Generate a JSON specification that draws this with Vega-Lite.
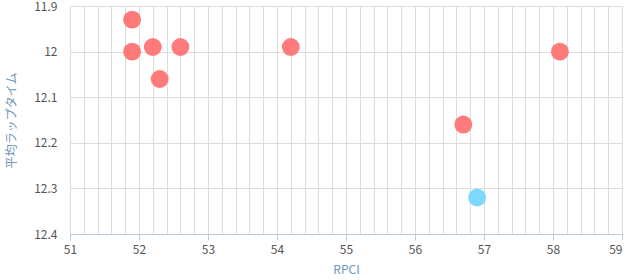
{
  "$schema": "https://vega.github.io/schema/vega-lite/v6.json",
  "width": 552,
  "height": 228,
  "autosize": "none",
  "padding": {"left": 70, "top": 6, "right": 3, "bottom": 46},
  "background": "white",
  "data": {
    "values": [
      {"RPCI": 51.9, "lap": 11.93, "group": "A"},
      {"RPCI": 51.9, "lap": 12.0, "group": "A"},
      {"RPCI": 52.2, "lap": 11.99, "group": "A"},
      {"RPCI": 52.3, "lap": 12.06, "group": "A"},
      {"RPCI": 52.6, "lap": 11.99, "group": "A"},
      {"RPCI": 54.2, "lap": 11.99, "group": "A"},
      {"RPCI": 56.7, "lap": 12.16, "group": "A"},
      {"RPCI": 58.1, "lap": 12.0, "group": "A"},
      {"RPCI": 56.9, "lap": 12.32, "group": "B"}
    ]
  },
  "config": {
    "view": {"stroke": null},
    "axis": {
      "labelFont": "Noto Sans CJK JP",
      "titleFont": "Noto Sans CJK JP",
      "labelFontSize": 12,
      "labelColor": "#555555",
      "titleColor": "#7196b8",
      "titleFontWeight": "normal",
      "titleFontSize": 12,
      "gridColor": "#dddddd",
      "gridOpacity": 1
    }
  },
  "mark": {"type": "circle", "size": 320, "opacity": 1},
  "encoding": {
    "x": {
      "field": "RPCI",
      "type": "quantitative",
      "scale": {"domain": [51, 59], "nice": false, "zero": false},
      "axis": {
        "title": "RPCI",
        "titlePadding": 9,
        "values": [51, 51.2, 51.4, 51.6, 51.8, 52, 52.2, 52.4, 52.6, 52.8, 53, 53.2, 53.4, 53.6, 53.8, 54, 54.2, 54.4, 54.6, 54.8, 55, 55.2, 55.4, 55.6, 55.8, 56, 56.2, 56.4, 56.6, 56.8, 57, 57.2, 57.4, 57.6, 57.8, 58, 58.2, 58.4, 58.6, 58.8, 59],
        "labelExpr": "abs(datum.value - round(datum.value)) < 0.01 ? format(datum.value, 'd') : ''",
        "labelOverlap": false,
        "labelFlush": false,
        "labelPadding": 4,
        "labelAlign": {"condition": {"test": "datum.value > 58.9", "value": "right"}, "value": "center"},
        "tickOpacity": {"condition": {"test": "abs(datum.value - round(datum.value)) < 0.01", "value": 1}, "value": 0},
        "tickColor": "#b8c9da",
        "tickSize": 6,
        "domainColor": "#b8c9da",
        "grid": true
      }
    },
    "y": {
      "field": "lap",
      "type": "quantitative",
      "scale": {"domain": [11.9, 12.4], "reverse": true, "nice": false, "zero": false},
      "axis": {
        "title": "平均ラップタイム",
        "titlePadding": 15,
        "values": [11.9, 12.0, 12.1, 12.2, 12.3, 12.4],
        "labelExpr": "format(datum.value, '~g')",
        "domain": false,
        "ticks": false,
        "labelPadding": 13,
        "grid": true
      }
    },
    "color": {
      "field": "group",
      "type": "nominal",
      "scale": {"domain": ["A", "B"], "range": ["#ff7b7b", "#7dd8ff"]},
      "legend": null
    }
  }
}
